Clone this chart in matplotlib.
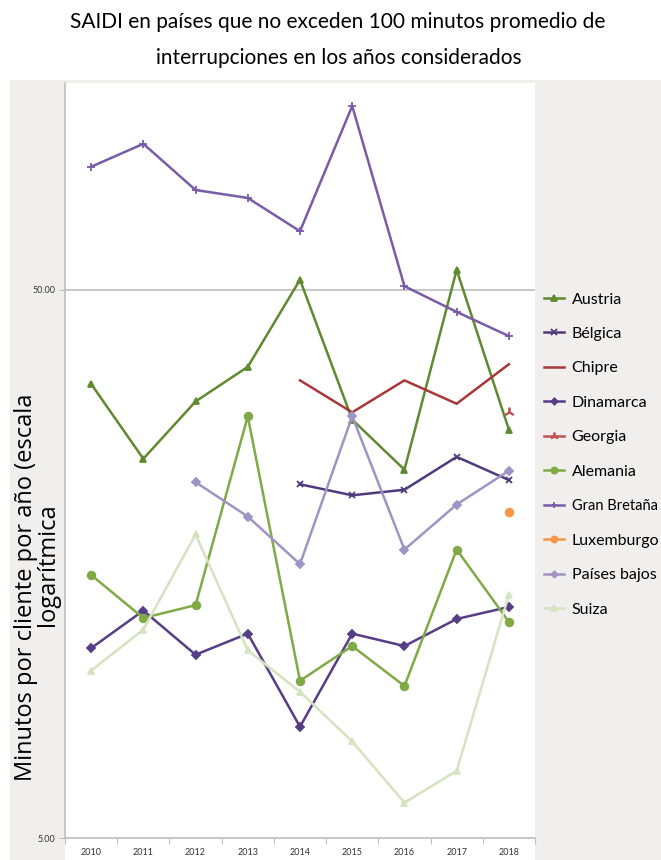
import numpy as np
import matplotlib
matplotlib.use("Agg")
import matplotlib.pyplot as plt
from matplotlib.patches import Rectangle

nan = np.nan
years = ["2010", "2011", "2012", "2013", "2014", "2015", "2016", "2017", "2018"]

austria = [33.7, 24.6, 31.3, 36.2, 52.2, 29.0, 23.5, 54.4, 27.8]
belgica = [nan, nan, nan, nan, 22.1, 21.1, 21.6, 24.8, 22.5]
chipre = [nan, nan, nan, nan, 34.2, 29.9, 34.2, 31.0, 36.6]
dinamarca = [11.1, 13.0, 10.8, 11.8, 7.98, 11.8, 11.2, 12.55, 13.2]
georgia = [nan, nan, nan, nan, nan, nan, nan, nan, 30.0]
alemania = [15.1, 12.6, 13.3, 29.4, 9.68, 11.2, 9.47, 16.8, 12.4]
gran_bretana = [83.9, 92.4, 76.1, 73.6, 64.0, 108.3, 50.8, 45.6, 41.2]
luxemburgo = [nan, nan, nan, nan, nan, nan, nan, nan, 19.7]
paises_bajos = [nan, nan, 22.3, 19.3, 15.8, 29.4, 16.8, 20.3, 23.4]
suiza = [10.1, 12.0, 17.9, 11.0, 9.24, 7.5, 5.8, 6.63, 13.9]

series = [
    ("Austria", austria, "#5f8a30", "^", 5),
    ("Bélgica", belgica, "#4e3a7c", "x", 5),
    ("Chipre", chipre, "#a8383a", None, 0),
    ("Dinamarca", dinamarca, "#573c86", "D", 4),
    ("Georgia", georgia, "#c0504d", (3, 2, 0), 7),
    ("Alemania", alemania, "#80aa45", "o", 5.5),
    ("Gran Bretaña", gran_bretana, "#7a5ca6", "+", 6),
    ("Luxemburgo", luxemburgo, "#f79646", "o", 5.5),
    ("Países bajos", paises_bajos, "#a093c6", "D", 4),
    ("Suiza", suiza, "#d5e3c1", "^", 5),
]

W, H = 661, 860
fig = plt.figure(figsize=(W / 100, H / 100), dpi=100)
fig.patch.set_facecolor("white")

def box(x0, y0, x1, y1):
    return (x0 / W, 1 - y1 / H, (x1 - x0) / W, (y1 - y0) / H)

# grey chart panel and white plotting region
bx = box(10, 80, 661, 860)
fig.add_artist(Rectangle(bx[:2], bx[2], bx[3], transform=fig.transFigure,
                         facecolor="#f0efee", edgecolor="none", zorder=0))
bx = box(65, 83, 535, 860)
fig.add_artist(Rectangle(bx[:2], bx[2], bx[3], transform=fig.transFigure,
                         facecolor="white", edgecolor="none", zorder=0))

ax = fig.add_axes(box(65, 83, 535, 838))
ax.set_facecolor("none")
x = np.arange(len(years))
for name, vals, color, marker, ms in series:
    ax.plot(x, vals, color=color, lw=1.8, marker=marker, ms=ms,
            mew=1.3, label=name, zorder=3)

ax.set_yscale("log")
ax.set_ylim(5, 119.3)
ax.set_xlim(-0.5, len(years) - 0.5)
ax.set_yticks([5, 50])
ax.set_yticklabels(["5.00", "50.00"])
ax.yaxis.set_minor_locator(matplotlib.ticker.NullLocator())
ax.set_xticks(np.arange(-0.5, len(years), 1.0))
ax.set_xticklabels([])
ax.set_xticks(x, minor=True)
ax.set_xticklabels(years, minor=True, fontsize=6.5, color="#333333",
                   family="Lato")
for lab in ax.get_yticklabels():
    lab.set_fontsize(6.5)
    lab.set_color("#333333")
    lab.set_family("Lato")
ax.tick_params(axis="x", which="minor", length=0, pad=7)
ax.tick_params(axis="x", which="major", length=4, color="#bfbfbf", direction="out")
ax.tick_params(axis="y", length=4, color="#bfbfbf", direction="out", pad=3)
ax.axhline(50, color="#bfbfbf", lw=1.2, zorder=1)
for s in ("top", "right"):
    ax.spines[s].set_visible(False)
for s in ("left", "bottom"):
    ax.spines[s].set_color("#bfbfbf")
    ax.spines[s].set_linewidth(1.2)

renderer = fig.canvas.get_renderer()

def fitted_text(xp, yp, s, width, family, **kw):
    t = fig.text(xp / W, 1 - yp / H, s, family=family, fontsize=10,
                 ha="center", va="center", **kw)
    ext = t.get_window_extent(renderer)
    w = ext.height if kw.get("rotation", 0) == 90 else ext.width
    t.set_fontsize(10 * width / w)
    return t

# title
fitted_text(338, 22, "SAIDI en países que no exceden 100 minutos promedio de",
            537, "Lato", color="black")
fitted_text(339, 58, "interrupciones en los años considerados",
            368, "Lato", color="black")

# y-axis label in two lines, same size
first = fitted_text(26, 587, "Minutos por cliente por año (escala", 387,
                    "Open Sans", rotation=90, color="black")
fig.text(48 / W, 1 - 565 / H, "logarítmica", family="Open Sans",
         fontsize=first.get_fontsize(), rotation=90, ha="center",
         va="center", color="black")

# legend
handles, labels = ax.get_legend_handles_labels()
leg = fig.legend(handles, labels, loc="upper left",
                 bbox_to_anchor=(530 / W, 1 - 278 / H), frameon=False,
                 prop={"family": "Lato", "size": 11.5}, labelspacing=1.27,
                 handlelength=1.25, handletextpad=0.45, markerscale=0.8)
for t in leg.get_texts():
    if t.get_text() == "Gran Bretaña":
        t.set_family(["Liberation Sans Narrow", "Lato"])
        t.set_fontsize(10.5)

fig.savefig("out.png", dpi=100)
